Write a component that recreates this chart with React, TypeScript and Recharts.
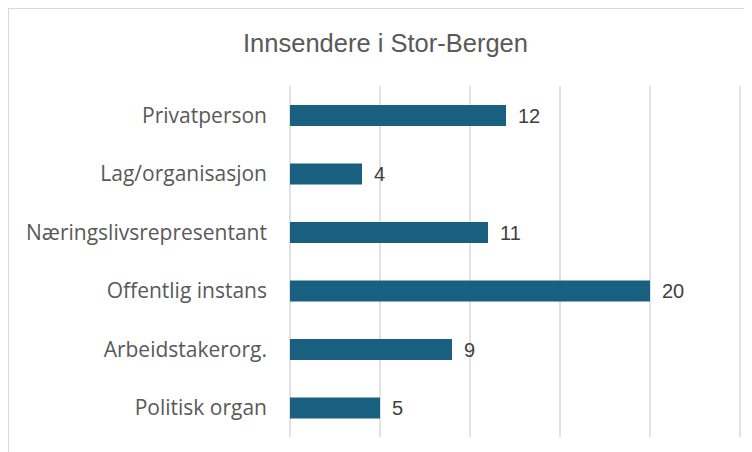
import { BarChart, Bar, XAxis, YAxis, CartesianGrid, LabelList } from 'recharts';

const categories = [
  'Privatperson',
  'Lag/organisasjon',
  'Næringslivsrepresentant',
  'Offentlig instans',
  'Arbeidstakerorg.',
  'Politisk organ',
];
const counts = [12, 4, 11, 20, 9, 5];
const xTicks = [0, 5, 10, 15, 20, 25];

const data = categories.map((name, i) => ({ name, count: counts[i] }));

export default function App() {
  return (
    <div
      style={{
        position: 'relative',
        width: 760,
        height: 460,
        borderTop: '1px solid #d9d9d9',
        borderLeft: '1px solid #d9d9d9',
        overflow: 'hidden',
        background: '#fff',
      }}
    >
      {/* Title */}
      <div
        style={{
          position: 'absolute',
          left: 0,
          top: 20,
          width: 753,
          textAlign: 'center',
          fontFamily: '"Liberation Sans", sans-serif',
          fontSize: 25.5,
          color: '#595959',
        }}
      >
        Innsendere i Stor-Bergen
      </div>
      <BarChart
        width={744}
        height={444}
        data={data}
        layout="vertical"
        margin={{ top: 77, right: 13, bottom: 16, left: 0 }}
        barSize={21}
      >
        <CartesianGrid horizontal={false} vertical stroke="#d9d9d9" strokeWidth={1.5} />
        <XAxis type="number" domain={[0, 25]} ticks={xTicks} hide />
        <YAxis
          type="category"
          dataKey="name"
          width={281}
          axisLine={false}
          tickLine={false}
          tickSize={0}
          tickMargin={23}
          tick={{
            fill: '#595959',
            fontSize: 21,
            fontFamily: '"Open Sans", sans-serif',
          }}
        />
        <Bar dataKey="count" fill="#195f80" isAnimationActive={false}>
          <LabelList
            dataKey="count"
            position="right"
            offset={12}
            fill="#404040"
            fontSize={20}
            fontFamily='"Liberation Sans", sans-serif'
          />
        </Bar>
      </BarChart>
    </div>
  );
}
